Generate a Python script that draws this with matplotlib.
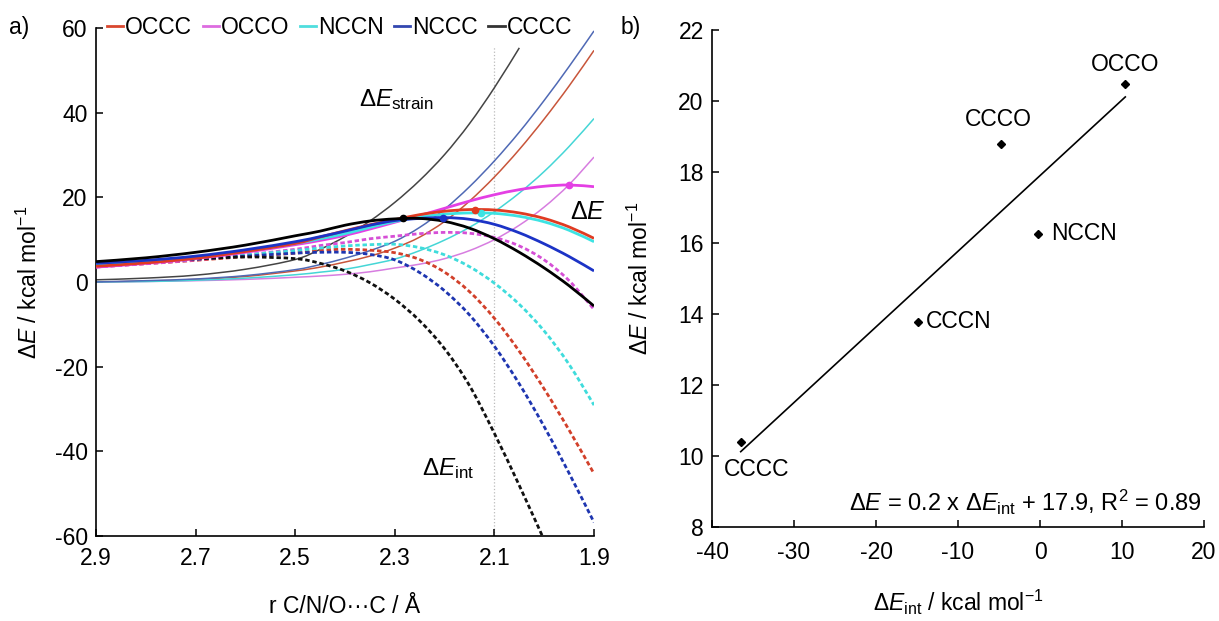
import numpy as np
import matplotlib
matplotlib.use("Agg")
import matplotlib.pyplot as plt
from matplotlib.lines import Line2D
from matplotlib.path import Path
from matplotlib.patches import PathPatch

plt.rcParams['font.family'] = ['Liberation Sans', 'DejaVu Sans']
plt.rcParams['mathtext.fontset'] = 'custom'
plt.rcParams['mathtext.rm'] = 'Liberation Sans'
plt.rcParams['mathtext.it'] = 'Liberation Sans:italic'
plt.rcParams['mathtext.bf'] = 'Liberation Sans:bold'
plt.rcParams['axes.unicode_minus'] = False

nan = np.nan

# bond distance scan (Angstrom)
r = [2.9, 2.8, 2.7, 2.6, 2.5, 2.45, 2.4, 2.35, 2.3, 2.25, 2.2, 2.15, 2.1, 2.05, 2.0, 1.95, 1.9]

systems = ["OCCC", "OCCO", "NCCN", "NCCC", "CCCC"]

# strain energies (kcal/mol)
strain_occc = [0.0, 0.2, 0.6, 1.3, 2.6, 3.5, 4.7, 6.1, 8.0, 10.6, 14.3, 19.1, 24.8, 31.3, 38.5, 46.3, 54.7]
strain_occo = [0.0, 0.1, 0.3, 0.6, 1.1, 1.4, 1.8, 2.4, 3.3, 4.2, 5.5, 7.4, 10.0, 13.4, 17.7, 23.0, 29.5]
strain_nccn = [0.0, 0.1, 0.4, 0.9, 1.7, 2.3, 3.0, 4.1, 5.4, 7.4, 9.9, 12.9, 16.6, 21.0, 26.1, 32.0, 38.6]
strain_nccc = [0.0, 0.3, 0.7, 1.5, 2.9, 4.1, 5.6, 7.4, 9.6, 12.9, 17.2, 22.5, 28.6, 35.4, 42.9, 50.9, 59.3]
strain_cccc = [0.5, 0.9, 1.6, 3.0, 5.3, 7.7, 10.7, 14.4, 18.8, 24.0, 30.1, 37.4, 45.9, 55.3, nan, nan, nan]

# interaction energies (kcal/mol)
int_occc = [3.6, 4.3, 5.1, 6.0, 6.8, 7.5, 7.7, 7.5, 6.9, 5.3, 2.3, -2.3, -8.6, -16.4, -25.3, -35.0, -45.3]
int_occo = [3.5, 4.3, 5.2, 6.4, 7.7, 8.6, 9.3, 10.2, 10.8, 11.4, 11.7, 11.5, 10.5, 8.5, 5.2, 0.3, -6.5]
int_nccn = [4.1, 4.7, 5.4, 6.4, 7.4, 8.0, 8.5, 8.8, 8.9, 8.1, 6.4, 3.6, -0.3, -5.3, -11.6, -19.5, -29.1]
int_nccc = [4.4, 4.8, 5.4, 6.1, 6.8, 7.0, 7.0, 6.5, 5.2, 2.2, -2.1, -7.8, -15.2, -24.1, -34.2, -45.2, -56.8]
int_cccc = [4.3, 4.8, 5.4, 5.9, 5.5, 4.4, 2.6, -0.2, -4.1, -9.2, -15.8, -24.5, -35.8, -48.1, -61.0, nan, nan]

# total activation profiles (kcal/mol)
de_occc = [3.7, 4.5, 5.6, 7.2, 9.1, 10.6, 12.1, 13.5, 14.7, 15.9, 16.7, 17.1, 17.0, 16.3, 15.0, 13.0, 10.3]
de_occo = [3.5, 4.4, 5.5, 7.0, 8.8, 9.8, 11.0, 12.5, 14.1, 15.7, 17.4, 19.1, 20.6, 21.8, 22.6, 22.9, 22.5]
de_nccn = [4.1, 4.8, 5.8, 7.3, 9.1, 10.2, 11.4, 12.9, 14.3, 15.3, 16.0, 16.3, 16.2, 15.5, 14.2, 12.2, 9.5]
de_nccc = [4.4, 5.1, 6.1, 7.6, 9.5, 10.7, 12.0, 13.4, 14.5, 15.0, 15.2, 14.8, 13.6, 11.6, 9.0, 6.0, 2.6]
de_cccc = [4.8, 5.7, 7.0, 8.7, 10.9, 12.0, 13.4, 14.4, 14.9, 15.0, 14.3, 12.7, 10.2, 7.0, 3.3, -0.9, -5.7]

# transition states
ts_r = [2.139, 1.950, 2.127, 2.204, 2.284]
ts_e = [17.0, 22.9, 16.4, 15.2, 15.0]

# panel b: barrier vs interaction energy at TS
b_names = ["OCCO", "CCCO", "NCCN", "CCCN", "CCCC"]
b_eint = [10.4, -4.7, -0.3, -14.9, -36.5]
b_de = [20.48, 18.79, 16.26, 13.78, 10.38]

strain = [strain_occc, strain_occo, strain_nccn, strain_nccc, strain_cccc]
inter = [int_occc, int_occo, int_nccn, int_nccc, int_cccc]
total = [de_occc, de_occo, de_nccn, de_nccc, de_cccc]

c_leg = ['#d9472f', '#dd6ce0', '#4fdede', '#3347b0', '#333333']
c_strain = ['#c8553a', '#d77de0', '#45d6d6', '#4f69b5', '#444444']
c_int = ['#d2402a', '#d64fd6', '#3fdcdc', '#1e35b0', '#111111']
c_tot = ['#e03b22', '#e43fe4', '#3de3e3', '#1c33c6', '#000000']


def smooth_line(ax, xs, ys, **kw):
    # draw a curve through the points as cubic Bezier segments (Catmull-Rom)
    p = np.array([(a, b) for a, b in zip(xs, ys) if not np.isnan(b)])
    n = len(p)
    verts = [tuple(p[0])]
    codes = [Path.MOVETO]
    for i in range(n - 1):
        p0 = p[i - 1] if i > 0 else p[i]
        p3 = p[i + 2] if i + 2 < n else p[i + 1]
        c1 = p[i] + (p[i + 1] - p0) / 6.0
        c2 = p[i + 1] - (p3 - p[i]) / 6.0
        verts += [tuple(c1), tuple(c2), tuple(p[i + 1])]
        codes += [Path.CURVE4] * 3
    patch = PathPatch(Path(verts, codes), fill=False, **kw)
    ax.add_patch(patch)


fig = plt.figure(figsize=(12.19, 6.21), dpi=100)
ax1 = fig.add_axes([0.0788, 0.137, 0.4085, 0.818])
ax2 = fig.add_axes([0.5841, 0.1514, 0.4036, 0.8003])

fs = 16.5

# ---- panel a ----
ax1.plot([2.1, 2.1], [-60, 55.5], color='#bbbbbb', lw=0.9, ls=':', zorder=1)
for i in range(5):
    smooth_line(ax1, r, strain[i], edgecolor=c_strain[i], lw=1.1, zorder=2)
for i in range(5):
    smooth_line(ax1, r, inter[i], edgecolor=c_int[i], lw=2.0, ls=(0, (1.6, 1.0)), zorder=3)
for i in [1, 2, 0, 3, 4]:
    smooth_line(ax1, r, total[i], edgecolor=c_tot[i], lw=2.0, zorder=4)
    ax1.plot(ts_r[i], ts_e[i], 'o', color=c_tot[i], ms=4.5, zorder=5)

ax1.set_xlim(2.9, 1.9)
ax1.set_ylim(-60, 60)
ax1.set_xticks([2.9, 2.7, 2.5, 2.3, 2.1, 1.9])
ax1.set_xticklabels(['2.9', '2.7', '2.5', '2.3', '2.1', '1.9'])
ax1.set_yticks(range(-60, 61, 20))
ax1.tick_params(direction='in', length=5, width=1.1, labelsize=fs)
ax1.tick_params(axis='x', pad=8)
ax1.tick_params(axis='y', pad=6)
for s in ['top', 'right']:
    ax1.spines[s].set_visible(False)
for s in ['left', 'bottom']:
    ax1.spines[s].set_linewidth(1.2)
ax1.set_xlabel('r C/N/O\u00b7\u00b7\u00b7C / \u00c5', fontsize=fs, labelpad=18)
ax1.set_ylabel(r'$\Delta E$ / kcal mol$^{\mathrm{-1}}$', fontsize=fs, labelpad=9)

ax1.text(2.297, 43, r'$\Delta E_{\mathrm{strain}}$', fontsize=17.5, ha='center', va='center')
ax1.text(1.948, 16.5, r'$\Delta E$', fontsize=18, ha='left', va='center')
ax1.text(2.193, -44, r'$\Delta E_{\mathrm{int}}$', fontsize=17.5, ha='center', va='center')

handles = [Line2D([0], [0], color=c, lw=2) for c in c_leg]
ax1.legend(handles, systems, ncol=5, loc='center left', bbox_to_anchor=(0.022, 1.0),
           frameon=False, fontsize=fs, handlelength=0.7, handletextpad=0.1,
           columnspacing=0.45, borderpad=0, borderaxespad=0)

fig.text(0.007, 0.955, 'a)', fontsize=fs, va='center')

# ---- panel b ----
slope, icpt = np.polyfit(b_eint, b_de, 1)
pred = slope * np.array(b_eint) + icpt
r2 = 1 - np.sum((np.array(b_de) - pred) ** 2) / np.sum((np.array(b_de) - np.mean(b_de)) ** 2)
xfit = np.array([min(b_eint), max(b_eint)])
ax2.plot(xfit, slope * xfit + icpt, color='black', lw=1.2)
ax2.plot(b_eint, b_de, 'D', color='black', ms=4)

offs = {"OCCO": (0, 14, 'center'), "CCCO": (-2, 17.5, 'center'), "NCCN": (10, 0, 'left'),
        "CCCN": (5.5, 0, 'left'), "CCCC": (11.5, -19.6, 'center')}
for name, xv, yv in zip(b_names, b_eint, b_de):
    dx, dy, ha = offs[name]
    ax2.annotate(name, (xv, yv), xytext=(dx, dy), textcoords='offset points',
                 ha=ha, va='center', fontsize=fs)

ax2.text(0.995, 0.05,
         r'$\Delta E$ = %.1f x $\Delta E_{\mathrm{int}}$ + %.1f, R$^{\mathrm{2}}$ = %.2f' % (slope, icpt, r2),
         transform=ax2.transAxes, ha='right', va='center', fontsize=17)

ax2.set_xlim(-40, 20)
ax2.set_ylim(8, 22)
ax2.set_xticks(range(-40, 21, 10))
ax2.set_yticks(range(8, 23, 2))
ax2.tick_params(direction='in', length=5, width=1.1, labelsize=fs)
ax2.tick_params(axis='x', pad=10)
ax2.tick_params(axis='y', pad=6)
for s in ['top', 'right']:
    ax2.spines[s].set_visible(False)
for s in ['left', 'bottom']:
    ax2.spines[s].set_linewidth(1.2)
ax2.set_xlabel(r'$\Delta E_{\mathrm{int}}$ / kcal mol$^{\mathrm{-1}}$', fontsize=fs, labelpad=17)
ax2.set_ylabel(r'$\Delta E$ / kcal mol$^{\mathrm{-1}}$', fontsize=fs, labelpad=18)

fig.text(0.509, 0.955, 'b)', fontsize=fs, va='center')

fig.savefig('out.png', dpi=100)
